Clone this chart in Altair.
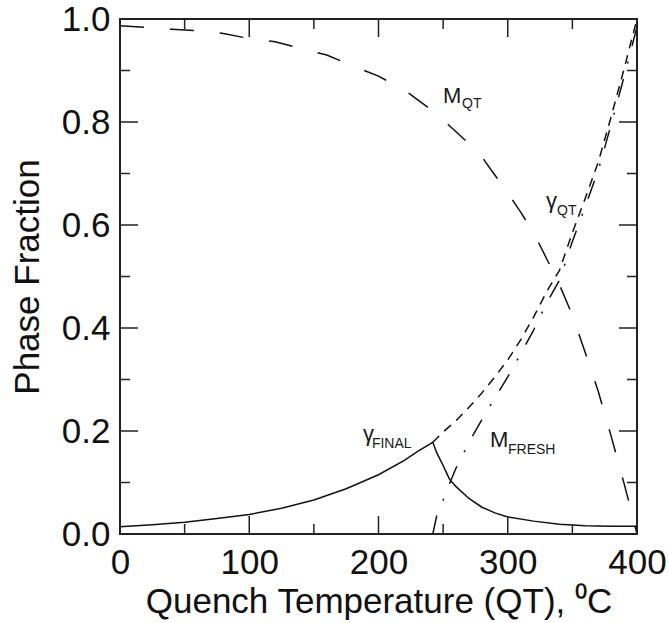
import altair as alt
import pandas as pd

FONT = "Liberation Sans"

# --- data -----------------------------------------------------------------
# M_QT (long dashes)
mqt_T = [0, 20, 40, 60, 80, 100, 120, 140, 160, 180, 200, 220, 240, 250, 260,
         270, 280, 290, 300, 310, 320, 330, 340, 350, 360, 370, 380, 385, 390, 395, 400]
mqt_f = [0.987, 0.984, 0.980, 0.977, 0.972, 0.962, 0.956, 0.943, 0.930, 0.909,
         0.889, 0.862, 0.825, 0.804, 0.781, 0.758, 0.732, 0.697, 0.662, 0.625,
         0.585, 0.535, 0.484, 0.425, 0.352, 0.277, 0.190, 0.144, 0.098, 0.050, 0.0]

# gamma_QT (short dashes), drawn above the cusp
gqt_T = [242, 250, 260, 270, 280, 290, 300, 310, 320, 330, 340, 350, 360, 370,
         380, 385, 390, 395, 400]
gqt_f = [0.178, 0.198, 0.220, 0.246, 0.274, 0.305, 0.338, 0.377, 0.421, 0.470,
         0.512, 0.585, 0.652, 0.722, 0.810, 0.857, 0.903, 0.952, 1.0]

# gamma_FINAL (solid)
gfin_T = [0, 25, 50, 75, 100, 125, 150, 175, 200, 220, 230, 242, 245, 248, 250,
          252, 255, 260, 270, 280, 290, 300, 320, 340, 360, 380, 400]
gfin_f = [0.014, 0.018, 0.023, 0.030, 0.038, 0.050, 0.066, 0.088, 0.115, 0.143,
          0.160, 0.178, 0.158, 0.143, 0.133, 0.122, 0.106, 0.092, 0.069, 0.052,
          0.041, 0.033, 0.025, 0.019, 0.016, 0.015, 0.015]

# M_FRESH (dash-dot)
mfr_T = [242, 245, 250, 255, 260, 270, 280, 290, 300, 310, 320, 330, 340, 350,
         360, 370, 380, 390, 400]
mfr_f = [0.0, 0.035, 0.066, 0.098, 0.128, 0.178, 0.222, 0.264, 0.305, 0.350,
         0.396, 0.448, 0.493, 0.568, 0.636, 0.706, 0.795, 0.888, 0.985]

# tick values
x_major = [0, 100, 200, 300, 400]
x_minor = [50, 150, 250, 350]
y_major = [0.0, 0.2, 0.4, 0.6, 0.8, 1.0]
y_minor = [0.1, 0.3, 0.5, 0.7, 0.9]

# curve labels (main letter + subscript)
ann_main = ["M", "γ", "γ", "M"]
ann_main_T = [249.9, 329.6, 188.0, 286.3]
ann_main_f = [0.837, 0.633, 0.180, 0.169]
ann_sub = ["QT", "QT", "FINAL", "FRESH"]
ann_sub_T = [264.6, 338.1, 194.9, 300.2]
ann_sub_f = [0.827, 0.619, 0.167, 0.155]

# --- scales ---------------------------------------------------------------
xs = alt.Scale(domain=[0, 400], nice=False, zero=False)
ys = alt.Scale(domain=[0, 1], nice=False, zero=False)

X = alt.X("T:Q", scale=xs,
          axis=alt.Axis(values=x_major, title="Quench Temperature (QT), ⁰C",
                        format="d"))
Y = alt.Y("f:Q", scale=ys,
          axis=alt.Axis(values=y_major, title="Phase Fraction", format=".1f"))


def curve(T, f, dash=None):
    df = pd.DataFrame({"T": T, "f": f})
    kw = dict(color="#111", strokeWidth=1.5)
    if dash:
        kw["strokeDash"] = dash
    return alt.Chart(df).mark_line(**kw).encode(x=X, y=Y, order="T:Q")


l_mqt = curve(mqt_T, mqt_f, [24, 26])
l_gqt = curve(gqt_T, gqt_f, [9, 7])
l_gfin = curve(gfin_T, gfin_f)
l_mfr = curve(mfr_T, mfr_f, [19, 16, 2, 16])


def xticks(vals, length):
    df = pd.DataFrame({"v": vals})
    bot = alt.Chart(df).mark_rule(color="#222", strokeWidth=1.5, y2Offset=-length).encode(
        x=alt.X("v:Q", scale=xs), y=alt.datum(0, scale=ys), y2=alt.datum(0))
    top = alt.Chart(df).mark_rule(color="#222", strokeWidth=1.5, y2Offset=length).encode(
        x=alt.X("v:Q", scale=xs), y=alt.datum(1, scale=ys), y2=alt.datum(1))
    return bot + top


def yticks(vals, length):
    df = pd.DataFrame({"v": vals})
    lft = alt.Chart(df).mark_rule(color="#222", strokeWidth=1.5, x2Offset=length).encode(
        y=alt.Y("v:Q", scale=ys), x=alt.datum(0, scale=xs), x2=alt.datum(0))
    rgt = alt.Chart(df).mark_rule(color="#222", strokeWidth=1.5, x2Offset=-length).encode(
        y=alt.Y("v:Q", scale=ys), x=alt.datum(400, scale=xs), x2=alt.datum(400))
    return lft + rgt


main_df = pd.DataFrame({"T": ann_main_T, "f": ann_main_f, "t": ann_main})
sub_df = pd.DataFrame({"T": ann_sub_T, "f": ann_sub_f, "t": ann_sub})
t_main = alt.Chart(main_df).mark_text(font=FONT, fontSize=22, align="left",
                                      baseline="alphabetic", color="#1a1a1a").encode(
    x=alt.X("T:Q", scale=xs), y=alt.Y("f:Q", scale=ys), text="t:N")
t_sub = alt.Chart(sub_df).mark_text(font=FONT, fontSize=14, align="left",
                                    baseline="alphabetic", color="#1a1a1a").encode(
    x=alt.X("T:Q", scale=xs), y=alt.Y("f:Q", scale=ys), text="t:N")

chart = alt.layer(
    l_mqt, l_gqt, l_gfin, l_mfr,
    xticks(x_major, 18), xticks(x_minor, 10),
    yticks(y_major, 18), yticks(y_minor, 10),
    t_main, t_sub,
).properties(
    width=517, height=515,
    autosize=alt.AutoSizeParams(type="none"),
    padding={"left": 120, "top": 19, "right": 32, "bottom": 89},
).configure_view(
    stroke="#222", strokeWidth=2
).configure_axis(
    domain=False, ticks=False, tickSize=0, grid=False, labelFlush=False,
    labelOverlap=False,
    labelFont=FONT, labelFontSize=35, labelColor="#111",
    titleFont=FONT, titleFontSize=35, titleColor="#111", titleFontWeight="normal",
).configure_axisX(
    labelPadding=11, titlePadding=4,
).configure_axisY(
    labelPadding=10, titlePadding=16,
)

chart.save("out.html", embed_options={"renderer": "svg", "actions": False})
